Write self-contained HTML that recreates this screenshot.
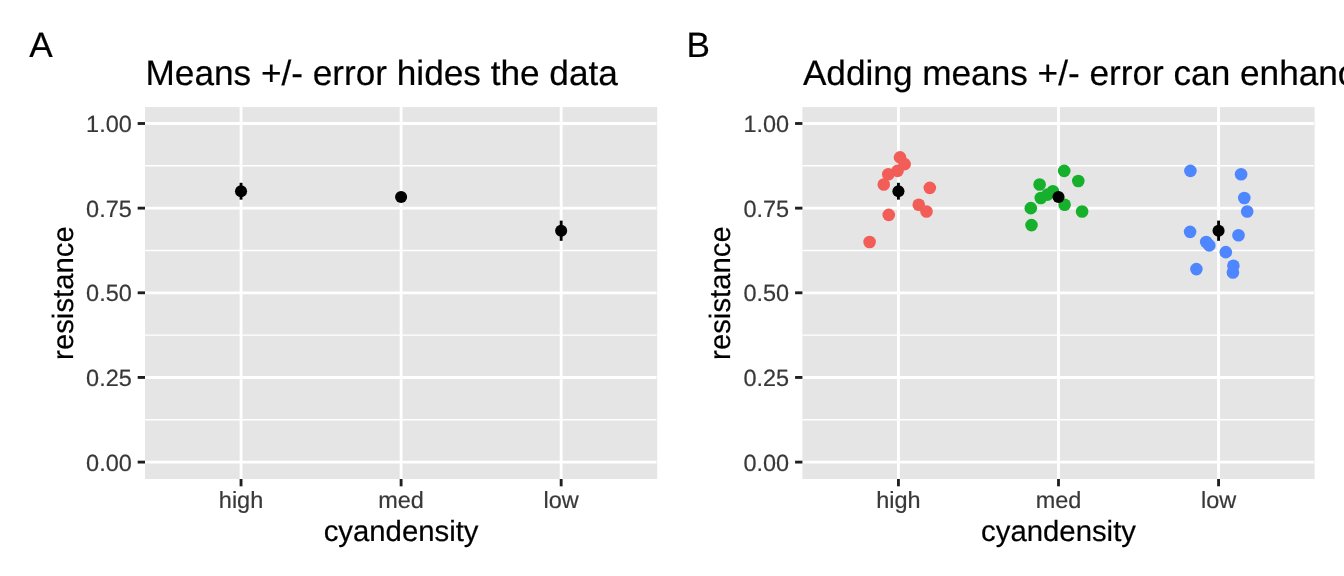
<!DOCTYPE html>
<html lang="en"><head><meta charset="utf-8"><title>Means and error</title>
<style>html,body{margin:0;padding:0;background:#fff;overflow:hidden}body{width:1344px;height:576px}svg{display:block}text{stroke-width:0.2px;text-rendering:geometricPrecision;font-family:"Liberation Sans",Arial,sans-serif}</style>
</head><body>
<svg width="1344" height="576" viewBox="0 0 1344 576" font-family="Liberation Sans, Arial, sans-serif">
<rect width="1344" height="576" fill="#fff"/>
<rect x="145" y="107.1" width="512.2" height="371.9" fill="#E5E5E5"/>
<line x1="145" x2="656.5" y1="419.78" y2="419.78" stroke="#fff" stroke-width="1.42"/>
<line x1="145" x2="656.5" y1="335.12" y2="335.12" stroke="#fff" stroke-width="1.42"/>
<line x1="145" x2="656.5" y1="250.48" y2="250.48" stroke="#fff" stroke-width="1.42"/>
<line x1="145" x2="656.5" y1="165.82" y2="165.82" stroke="#fff" stroke-width="1.42"/>
<line x1="145" x2="656.5" y1="462.1" y2="462.1" stroke="#fff" stroke-width="2.85"/>
<line x1="145" x2="656.5" y1="377.45" y2="377.45" stroke="#fff" stroke-width="2.85"/>
<line x1="145" x2="656.5" y1="292.8" y2="292.8" stroke="#fff" stroke-width="2.85"/>
<line x1="145" x2="656.5" y1="208.15" y2="208.15" stroke="#fff" stroke-width="2.85"/>
<line x1="145" x2="656.5" y1="123.5" y2="123.5" stroke="#fff" stroke-width="2.85"/>
<line x1="241.04" x2="241.04" y1="107.1" y2="479" stroke="#fff" stroke-width="2.85"/>
<line x1="401.1" x2="401.1" y1="107.1" y2="479" stroke="#fff" stroke-width="2.85"/>
<line x1="561.16" x2="561.16" y1="107.1" y2="479" stroke="#fff" stroke-width="2.85"/>
<line x1="241.04" x2="241.04" y1="182.8" y2="199.64" stroke="#000" stroke-width="2.85"/>
<circle cx="241.04" cy="191.22" r="6.05" fill="#000"/>
<line x1="401.1" x2="401.1" y1="191.9" y2="202.05" stroke="#000" stroke-width="2.85"/>
<circle cx="401.1" cy="196.98" r="6.05" fill="#000"/>
<line x1="561.16" x2="561.16" y1="220.62" y2="240.82" stroke="#000" stroke-width="2.85"/>
<circle cx="561.16" cy="230.72" r="6.05" fill="#000"/>
<line x1="137.67" x2="145" y1="462.1" y2="462.1" stroke="#1F1F1F" stroke-width="2.85"/>
<text x="131.8" y="470.7" text-anchor="end" font-size="23.47" fill="#383838" stroke="#383838">0.00</text>
<line x1="137.67" x2="145" y1="377.45" y2="377.45" stroke="#1F1F1F" stroke-width="2.85"/>
<text x="131.8" y="386.05" text-anchor="end" font-size="23.47" fill="#383838" stroke="#383838">0.25</text>
<line x1="137.67" x2="145" y1="292.8" y2="292.8" stroke="#1F1F1F" stroke-width="2.85"/>
<text x="131.8" y="301.4" text-anchor="end" font-size="23.47" fill="#383838" stroke="#383838">0.50</text>
<line x1="137.67" x2="145" y1="208.15" y2="208.15" stroke="#1F1F1F" stroke-width="2.85"/>
<text x="131.8" y="216.75" text-anchor="end" font-size="23.47" fill="#383838" stroke="#383838">0.75</text>
<line x1="137.67" x2="145" y1="123.5" y2="123.5" stroke="#1F1F1F" stroke-width="2.85"/>
<text x="131.8" y="132.1" text-anchor="end" font-size="23.47" fill="#383838" stroke="#383838">1.00</text>
<line x1="241.04" x2="241.04" y1="479" y2="486.33" stroke="#1F1F1F" stroke-width="2.85"/>
<text x="241.04" y="507.8" text-anchor="middle" font-size="23.47" fill="#383838" stroke="#383838">high</text>
<line x1="401.1" x2="401.1" y1="479" y2="486.33" stroke="#1F1F1F" stroke-width="2.85"/>
<text x="401.1" y="507.8" text-anchor="middle" font-size="23.47" fill="#383838" stroke="#383838">med</text>
<line x1="561.16" x2="561.16" y1="479" y2="486.33" stroke="#1F1F1F" stroke-width="2.85"/>
<text x="561.16" y="507.8" text-anchor="middle" font-size="23.47" fill="#383838" stroke="#383838">low</text>
<text x="401.1" y="540.5" text-anchor="middle" font-size="29.33" fill="#000" stroke="#000">cyandensity</text>
<text transform="translate(72.5,293.05) rotate(-90)" text-anchor="middle" font-size="29.33" fill="#000" stroke="#000">resistance</text>
<text x="145.5" y="85" font-size="35.2" fill="#000" stroke="#000">Means +/- error hides the data</text>
<text x="29.3" y="57.2" font-size="35.2" fill="#000" stroke="#000">A</text>
<rect x="802.4" y="107.1" width="512.2" height="371.9" fill="#E5E5E5"/>
<line x1="802.4" x2="1313.9" y1="419.78" y2="419.78" stroke="#fff" stroke-width="1.42"/>
<line x1="802.4" x2="1313.9" y1="335.12" y2="335.12" stroke="#fff" stroke-width="1.42"/>
<line x1="802.4" x2="1313.9" y1="250.48" y2="250.48" stroke="#fff" stroke-width="1.42"/>
<line x1="802.4" x2="1313.9" y1="165.82" y2="165.82" stroke="#fff" stroke-width="1.42"/>
<line x1="802.4" x2="1313.9" y1="462.1" y2="462.1" stroke="#fff" stroke-width="2.85"/>
<line x1="802.4" x2="1313.9" y1="377.45" y2="377.45" stroke="#fff" stroke-width="2.85"/>
<line x1="802.4" x2="1313.9" y1="292.8" y2="292.8" stroke="#fff" stroke-width="2.85"/>
<line x1="802.4" x2="1313.9" y1="208.15" y2="208.15" stroke="#fff" stroke-width="2.85"/>
<line x1="802.4" x2="1313.9" y1="123.5" y2="123.5" stroke="#fff" stroke-width="2.85"/>
<line x1="898.44" x2="898.44" y1="107.1" y2="479" stroke="#fff" stroke-width="2.85"/>
<line x1="1058.5" x2="1058.5" y1="107.1" y2="479" stroke="#fff" stroke-width="2.85"/>
<line x1="1218.56" x2="1218.56" y1="107.1" y2="479" stroke="#fff" stroke-width="2.85"/>
<circle cx="900" cy="157.36" r="6.3" fill="#F25D58"/>
<circle cx="904.6" cy="164.13" r="6.3" fill="#F25D58"/>
<circle cx="897.5" cy="170.9" r="6.3" fill="#F25D58"/>
<circle cx="888.3" cy="174.29" r="6.3" fill="#F25D58"/>
<circle cx="883.75" cy="184.45" r="6.3" fill="#F25D58"/>
<circle cx="929.8" cy="187.83" r="6.3" fill="#F25D58"/>
<circle cx="918.75" cy="204.76" r="6.3" fill="#F25D58"/>
<circle cx="926.5" cy="211.54" r="6.3" fill="#F25D58"/>
<circle cx="888.75" cy="214.92" r="6.3" fill="#F25D58"/>
<circle cx="869.6" cy="242.01" r="6.3" fill="#F25D58"/>
<circle cx="1064.2" cy="170.9" r="6.3" fill="#16B02C"/>
<circle cx="1078.3" cy="181.06" r="6.3" fill="#16B02C"/>
<circle cx="1039.6" cy="184.45" r="6.3" fill="#16B02C"/>
<circle cx="1052.9" cy="191.22" r="6.3" fill="#16B02C"/>
<circle cx="1047.5" cy="194.61" r="6.3" fill="#16B02C"/>
<circle cx="1040.8" cy="197.99" r="6.3" fill="#16B02C"/>
<circle cx="1064.6" cy="204.76" r="6.3" fill="#16B02C"/>
<circle cx="1030.8" cy="208.15" r="6.3" fill="#16B02C"/>
<circle cx="1082.1" cy="211.54" r="6.3" fill="#16B02C"/>
<circle cx="1031.5" cy="225.08" r="6.3" fill="#16B02C"/>
<circle cx="1190.4" cy="170.9" r="6.3" fill="#4E86FF"/>
<circle cx="1241.1" cy="174.29" r="6.3" fill="#4E86FF"/>
<circle cx="1244.3" cy="197.99" r="6.3" fill="#4E86FF"/>
<circle cx="1247.2" cy="211.54" r="6.3" fill="#4E86FF"/>
<circle cx="1190.1" cy="231.85" r="6.3" fill="#4E86FF"/>
<circle cx="1238.5" cy="235.24" r="6.3" fill="#4E86FF"/>
<circle cx="1206.2" cy="242.01" r="6.3" fill="#4E86FF"/>
<circle cx="1209.3" cy="245.4" r="6.3" fill="#4E86FF"/>
<circle cx="1225.8" cy="252.17" r="6.3" fill="#4E86FF"/>
<circle cx="1233.4" cy="265.71" r="6.3" fill="#4E86FF"/>
<circle cx="1196.4" cy="269.1" r="6.3" fill="#4E86FF"/>
<circle cx="1232.9" cy="272.48" r="6.3" fill="#4E86FF"/>
<line x1="898.44" x2="898.44" y1="182.8" y2="199.64" stroke="#000" stroke-width="2.85"/>
<circle cx="898.44" cy="191.22" r="6.05" fill="#000"/>
<line x1="1058.5" x2="1058.5" y1="191.9" y2="202.05" stroke="#000" stroke-width="2.85"/>
<circle cx="1058.5" cy="196.98" r="6.05" fill="#000"/>
<line x1="1218.56" x2="1218.56" y1="220.62" y2="240.82" stroke="#000" stroke-width="2.85"/>
<circle cx="1218.56" cy="230.72" r="6.05" fill="#000"/>
<line x1="795.07" x2="802.4" y1="462.1" y2="462.1" stroke="#1F1F1F" stroke-width="2.85"/>
<text x="789.2" y="470.7" text-anchor="end" font-size="23.47" fill="#383838" stroke="#383838">0.00</text>
<line x1="795.07" x2="802.4" y1="377.45" y2="377.45" stroke="#1F1F1F" stroke-width="2.85"/>
<text x="789.2" y="386.05" text-anchor="end" font-size="23.47" fill="#383838" stroke="#383838">0.25</text>
<line x1="795.07" x2="802.4" y1="292.8" y2="292.8" stroke="#1F1F1F" stroke-width="2.85"/>
<text x="789.2" y="301.4" text-anchor="end" font-size="23.47" fill="#383838" stroke="#383838">0.50</text>
<line x1="795.07" x2="802.4" y1="208.15" y2="208.15" stroke="#1F1F1F" stroke-width="2.85"/>
<text x="789.2" y="216.75" text-anchor="end" font-size="23.47" fill="#383838" stroke="#383838">0.75</text>
<line x1="795.07" x2="802.4" y1="123.5" y2="123.5" stroke="#1F1F1F" stroke-width="2.85"/>
<text x="789.2" y="132.1" text-anchor="end" font-size="23.47" fill="#383838" stroke="#383838">1.00</text>
<line x1="898.44" x2="898.44" y1="479" y2="486.33" stroke="#1F1F1F" stroke-width="2.85"/>
<text x="898.44" y="507.8" text-anchor="middle" font-size="23.47" fill="#383838" stroke="#383838">high</text>
<line x1="1058.5" x2="1058.5" y1="479" y2="486.33" stroke="#1F1F1F" stroke-width="2.85"/>
<text x="1058.5" y="507.8" text-anchor="middle" font-size="23.47" fill="#383838" stroke="#383838">med</text>
<line x1="1218.56" x2="1218.56" y1="479" y2="486.33" stroke="#1F1F1F" stroke-width="2.85"/>
<text x="1218.56" y="507.8" text-anchor="middle" font-size="23.47" fill="#383838" stroke="#383838">low</text>
<text x="1058.5" y="540.5" text-anchor="middle" font-size="29.33" fill="#000" stroke="#000">cyandensity</text>
<text transform="translate(729.9,293.05) rotate(-90)" text-anchor="middle" font-size="29.33" fill="#000" stroke="#000">resistance</text>
<text x="802.9" y="85" font-size="35.2" fill="#000" stroke="#000">Adding means +/- error can enhance interpretation of the data</text>
<text x="686.6" y="57.2" font-size="35.2" fill="#000" stroke="#000">B</text>
</svg>
</body></html>
